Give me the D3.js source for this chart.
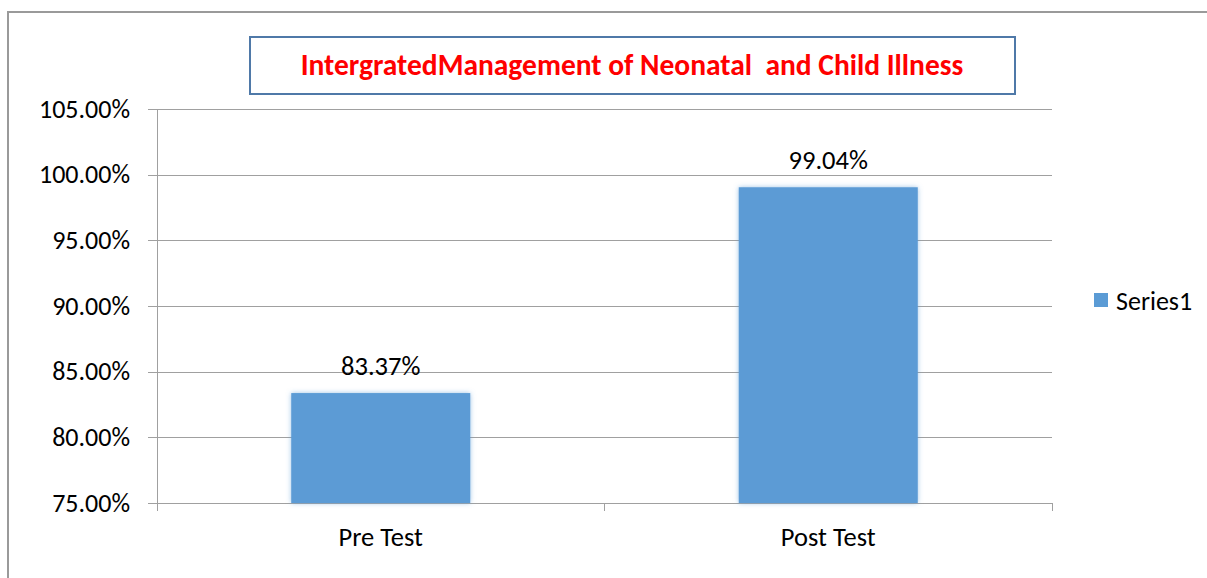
<!DOCTYPE html>
<meta charset="utf-8">
<head>
<style>
body { margin: 0; background: #fff; }
.axis text { font-family: Calibri, Carlito, Lato, sans-serif; fill: #000; }
.axis path, .axis line { fill: none; stroke: #a0a0a0; shape-rendering: crispEdges; }
.grid line { stroke: #a0a0a0; shape-rendering: crispEdges; }
.grid path { display: none; }
</style>
</head>
<body>
<div id="chart"></div>
<script src="https://d3js.org/d3.v7.min.js"></script>
<script>

// data
var categories = ["Pre Test", "Post Test"];
var values = [0.8337, 0.9904];
var yTicks = [0.75, 0.80, 0.85, 0.90, 0.95, 1.00, 1.05];
var seriesName = "Series1";
var titleText = "IntergratedManagement of Neonatal\u00a0 and Child Illness";

var fontFam = "Calibri, Carlito, Lato, sans-serif";

var margin = {top: 109, right: 155, bottom: 75, left: 157},
    width = 1052 - margin.left,
    height = 503 - margin.top;

var svg = d3.select("#chart")
  .append("svg")
    .attr("width", 1207)
    .attr("height", 578);

// outer frame (only top and left edges visible)
svg.append("path")
  .attr("d", "M8,578 L8,12 L1207,12")
  .attr("fill", "none")
  .attr("stroke", "#9a9a9a")
  .attr("stroke-width", 2);

var defs = svg.append("defs");
var f = defs.append("filter").attr("id", "soft").attr("x", "-10%").attr("y", "-10%").attr("width", "120%").attr("height", "120%");
f.append("feGaussianBlur").attr("in", "SourceAlpha").attr("stdDeviation", 2.5).attr("result", "b");
f.append("feFlood").attr("flood-color", "#5b9bd5").attr("flood-opacity", 0.6);
f.append("feComposite").attr("in2", "b").attr("operator", "in");
var fm = f.append("feMerge");
fm.append("feMergeNode");
fm.append("feMergeNode").attr("in", "SourceGraphic");

var canvas = svg.append("g")
  .attr("transform", "translate(" + margin.left + "," + margin.top + ")");

var y = d3.scaleLinear()
  .domain([0.75, 1.05])
  .range([height, 0]);

var x = d3.scaleBand()
  .domain(categories)
  .range([0, width])
  .paddingInner(0.6)
  .paddingOuter(0.3);

// gridlines
canvas.append("g")
  .attr("class", "grid")
  .call(d3.axisLeft(y).tickValues(yTicks).tickSize(-width).tickFormat(""));

// y axis
canvas.append("g")
  .attr("class", "axis")
  .call(d3.axisLeft(y).tickValues(yTicks).tickSize(9).tickPadding(18)
    .tickFormat(function(d) { return d3.format(".2%")(d); }))
  .selectAll("text")
    .style("font-size", "26px");

// x axis with ticks between categories
var xAxisG = canvas.append("g")
  .attr("class", "axis")
  .attr("transform", "translate(0," + height + ")");
xAxisG.append("line").attr("x1", 0).attr("x2", width).attr("y1", 0).attr("y2", 0);
var step = width / categories.length;
xAxisG.selectAll(".sep")
  .data(d3.range(categories.length + 1))
  .enter().append("line")
    .attr("x1", function(i) { return i * step; })
    .attr("x2", function(i) { return i * step; })
    .attr("y1", 0).attr("y2", 8);
xAxisG.selectAll(".lbl")
  .data(categories)
  .enter().append("text")
    .attr("x", function(d) { return x(d) + x.bandwidth() / 2; })
    .attr("y", 43)
    .attr("text-anchor", "middle")
    .style("font-size", "26.5px")
    .text(function(d) { return d; });

// bars
canvas.selectAll(".bar")
  .data(values)
  .enter().append("rect")
    .attr("class", "bar")
    .attr("x", function(d, i) { return x(categories[i]); })
    .attr("y", function(d) { return y(d); })
    .attr("width", x.bandwidth())
    .attr("height", function(d) { return height - y(d); })
    .attr("fill", "#5b9bd5")
    .attr("filter", "url(#soft)");

// data labels
canvas.selectAll(".val")
  .data(values)
  .enter().append("text")
    .attr("x", function(d, i) { return x(categories[i]) + x.bandwidth() / 2; })
    .attr("y", function(d) { return y(d) - 18; })
    .attr("text-anchor", "middle")
    .style("font-family", fontFam)
    .style("font-size", "26.5px")
    .text(function(d) { return d3.format(".2%")(d); });

// title box
svg.append("rect")
  .attr("x", 250).attr("y", 37)
  .attr("width", 765).attr("height", 57)
  .attr("fill", "#fff")
  .attr("stroke", "#4f79a8")
  .attr("stroke-width", 2);
svg.append("text")
  .attr("x", 632).attr("y", 75)
  .attr("text-anchor", "middle")
  .style("font-family", fontFam)
  .style("font-weight", "bold")
  .style("font-size", "29.5px")
  .attr("fill", "#ff0000")
  .text(titleText);

// legend
var legend = svg.append("g").attr("transform", "translate(1094,293)");
legend.append("rect").attr("width", 14).attr("height", 14).attr("fill", "#5b9bd5");
legend.append("text")
  .attr("x", 22).attr("y", 17)
  .style("font-family", fontFam)
  .style("font-size", "26px")
  .text(seriesName);

</script>
</body>
</html>
